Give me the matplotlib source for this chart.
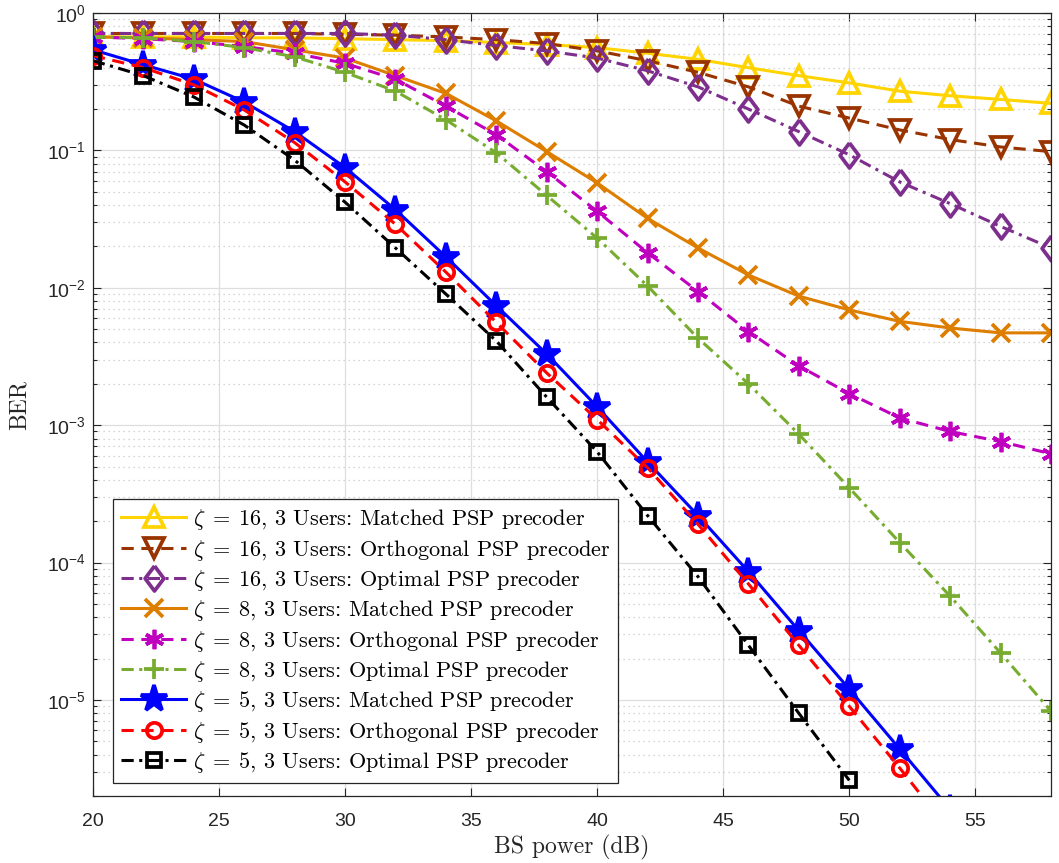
import matplotlib
matplotlib.use("Agg")
import matplotlib.pyplot as plt

plt.rcParams["font.family"] = ["Liberation Sans", "DejaVu Sans"]
plt.rcParams["mathtext.fontset"] = "cm"

# BS transmit power in dB
bs_power = [20, 22, 24, 26, 28, 30, 32, 34, 36, 38,
            40, 42, 44, 46, 48, 50, 52, 54, 56, 58]

# zeta = 16
ber_z16_matched = [0.67, 0.67, 0.67, 0.66, 0.66, 0.65, 0.64, 0.63, 0.61, 0.59,
                   0.56, 0.51, 0.46, 0.40, 0.35, 0.31, 0.27, 0.25, 0.235, 0.22]
ber_z16_orth = [0.71, 0.71, 0.71, 0.71, 0.71, 0.70, 0.69, 0.67, 0.64, 0.60,
                0.53, 0.45, 0.37, 0.29, 0.21, 0.172, 0.141, 0.12, 0.106, 0.098]
ber_z16_opt = [0.71, 0.71, 0.71, 0.71, 0.71, 0.71, 0.69, 0.64, 0.58, 0.53,
               0.47, 0.38, 0.29, 0.20, 0.137, 0.093, 0.059, 0.041, 0.028, 0.0195]

# zeta = 8
ber_z8_matched = [0.67, 0.66, 0.64, 0.62, 0.54, 0.47, 0.35, 0.26, 0.164, 0.098,
                  0.058, 0.032, 0.0195, 0.0124, 0.0087, 0.0069, 0.0057, 0.0051, 0.0047, 0.0047]
ber_z8_orth = [0.67, 0.65, 0.62, 0.57, 0.51, 0.43, 0.33, 0.21, 0.13, 0.070,
               0.036, 0.018, 0.0094, 0.0048, 0.0027, 0.0017, 0.00113, 0.00090, 0.00076, 0.00062]
ber_z8_opt = [0.67, 0.66, 0.62, 0.56, 0.48, 0.37, 0.27, 0.167, 0.096, 0.047,
              0.023, 0.0103, 0.0043, 0.0020, 0.00086, 0.00035, 0.00014, 5.7e-5, 2.2e-5, 8.3e-6]

# zeta = 5
ber_z5_matched = [0.54, 0.42, 0.33, 0.225, 0.137, 0.075, 0.037, 0.0168, 0.0074, 0.0033,
                  0.00136, 0.00054, 0.00022, 8.6e-5, 3.2e-5, 1.2e-5, 4.4e-6, 1.6e-6]
ber_z5_orth = [0.49, 0.40, 0.30, 0.197, 0.114, 0.059, 0.029, 0.013, 0.0056, 0.0024,
               0.0011, 0.00049, 0.00019, 7.0e-5, 2.5e-5, 9.0e-6, 3.2e-6, 1.1e-6]
ber_z5_opt = [0.45, 0.35, 0.245, 0.153, 0.085, 0.042, 0.0195, 0.0090, 0.0041, 0.0016,
              0.00064, 0.00022, 7.9e-5, 2.5e-5, 8.0e-6, 2.6e-6]

labels = [
    r"$\zeta\;=\;16$, 3 Users: Matched PSP precoder",
    r"$\zeta\;=\;16$, 3 Users: Orthogonal PSP precoder",
    r"$\zeta\;=\;16$, 3 Users: Optimal PSP precoder",
    r"$\zeta\;=\;8$, 3 Users: Matched PSP precoder",
    r"$\zeta\;=\;8$, 3 Users: Orthogonal PSP precoder",
    r"$\zeta\;=\;8$, 3 Users: Optimal PSP precoder",
    r"$\zeta\;=\;5$, 3 Users: Matched PSP precoder",
    r"$\zeta\;=\;5$, 3 Users: Orthogonal PSP precoder",
    r"$\zeta\;=\;5$, 3 Users: Optimal PSP precoder",
]

dashed = (0, (4.0, 2.5))
dashdot = (0, (4.0, 1.8, 1.0, 1.8))
# taller-than-wide diamond
diamond = [(0, 1), (0.75, 0), (0, -1), (-0.75, 0), (0, 1)]

curves = [
    (ber_z16_matched, "#FFD400", "-", "^", 14, "none"),
    (ber_z16_orth, "#993300", dashed, "v", 14, "none"),
    (ber_z16_opt, "#7E2F8E", dashdot, diamond, 18, "none"),
    (ber_z8_matched, "#DE7E00", "-", "x", 13, "none"),
    (ber_z8_orth, "#BF00BF", dashed, (6, 2, 0), 14, "none"),
    (ber_z8_opt, "#77AC30", dashdot, "+", 14, "none"),
    (ber_z5_matched, "#0000FF", "-", "*", 20, "#0000FF"),
    (ber_z5_orth, "#FF0000", dashed, "o", 11, "none"),
    (ber_z5_opt, "#000000", dashdot, "s", 10, "none"),
]

fig = plt.figure(figsize=(10.59, 8.63), dpi=100)
ax = fig.add_axes([0.0878, 0.0776, 0.9046, 0.9073])

for (ber, color, ls, marker, ms, mfc), label in zip(curves, labels):
    ax.semilogy(bs_power[:len(ber)], ber, color=color, linestyle=ls, linewidth=2.2,
                marker=marker, markersize=ms, markerfacecolor=mfc,
                markeredgecolor=color, markeredgewidth=2.7, label=label)

ax.set_xlim(20, 58)
ax.set_ylim(2e-6, 1)
ax.set_xticks([20, 25, 30, 35, 40, 45, 50, 55])

ax.grid(True, which="major", color="#DEDEDE", linestyle="-", linewidth=0.9)
ax.grid(True, which="minor", axis="y", color="#C8C8C8", linestyle=(0, (1, 3)), linewidth=0.9)
ax.set_axisbelow(True)

ax.tick_params(which="both", direction="in", top=True, right=True,
               colors="#262626", labelsize=14)
ax.tick_params(which="major", length=6, width=0.8)
ax.tick_params(which="minor", length=3, width=0.8)
ax.tick_params(axis="x", which="major", pad=12)
ax.tick_params(axis="y", which="major", pad=5)
for sp in ax.spines.values():
    sp.set_color("#262626")
    sp.set_linewidth(0.9)

ax.set_xlabel("BS power (dB)", family="cmr10", fontsize=17, color="#262626", labelpad=4)
ax.set_ylabel("BER", family="cmr10", fontsize=17, color="#262626", labelpad=12)

leg = ax.legend(loc="lower left", bbox_to_anchor=(0.021, 0.017), borderaxespad=0,
                prop={"family": "cmr10", "size": 16}, handlelength=2.95,
                labelspacing=0.24, handletextpad=0.3, borderpad=0.35,
                fancybox=False, framealpha=1, edgecolor="#262626")
leg.get_frame().set_linewidth(0.9)

fig.savefig("out.png", dpi=100)
